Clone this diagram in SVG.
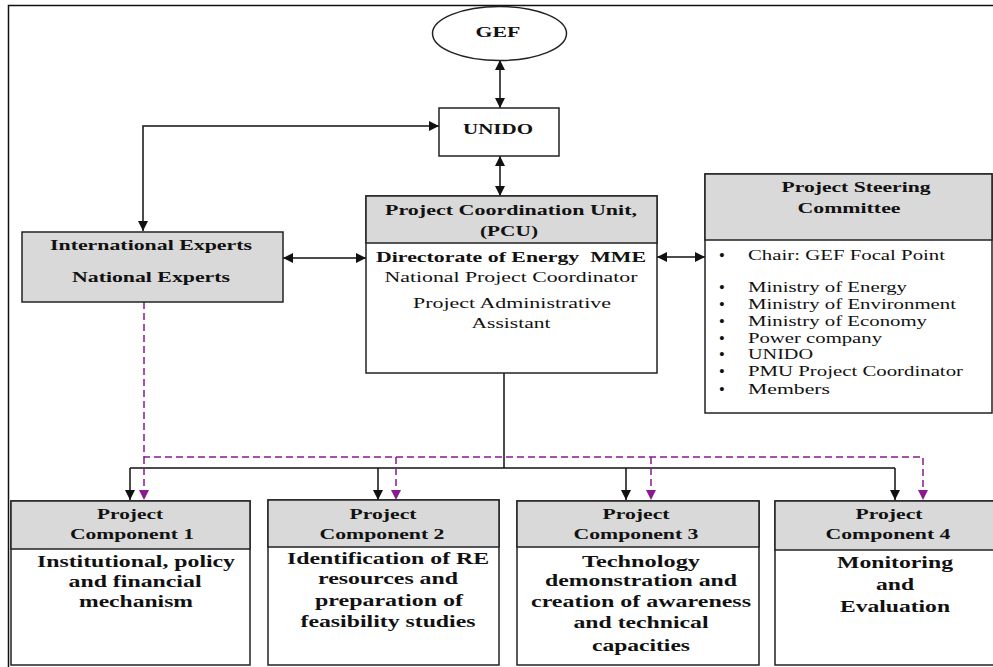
<svg xmlns="http://www.w3.org/2000/svg" width="993" height="667" viewBox="0 0 993 667">
<defs>
<style>
.box{fill:#fff;stroke:#222;stroke-width:1.5}
.hdr{fill:#d9d9d9;stroke:#222;stroke-width:1.5}
.t{font-family:"Liberation Serif","Times New Roman",serif;fill:#111;text-anchor:middle}
.b{font-weight:bold}
.l{text-anchor:start}
.bu{font-family:"Liberation Serif","Times New Roman",serif;fill:#111;font-size:15px;font-weight:bold;text-anchor:middle}
.ln{fill:none;stroke:#111;stroke-width:1.5}
.pd{fill:none;stroke:#8a1a8f;stroke-width:1.5;stroke-dasharray:7,4}
</style>
<marker id="ah" markerUnits="userSpaceOnUse" markerWidth="11" markerHeight="11" refX="10" refY="5" orient="auto-start-reverse">
<path d="M0,0 L10,5 L0,10 z" fill="#111"/>
</marker>
<marker id="ap" markerUnits="userSpaceOnUse" markerWidth="11" markerHeight="11" refX="10" refY="5" orient="auto">
<path d="M0,0 L10,5 L0,10 z" fill="#8a1a8f"/>
</marker>
</defs>
<rect width="993" height="667" fill="#fff"/>
<path d="M8.5,667 V5.5 H993" fill="none" stroke="#111" stroke-width="1.5"/>

<g id="connectors">
<path class="ln" d="M500,60 V108" marker-start="url(#ah)" marker-end="url(#ah)"/>
<path class="ln" d="M500,156 V196" marker-start="url(#ah)" marker-end="url(#ah)"/>
<path class="ln" d="M439,126 H143 V231" marker-start="url(#ah)" marker-end="url(#ah)"/>
<path class="ln" d="M283,258 H366" marker-start="url(#ah)" marker-end="url(#ah)"/>
<path class="ln" d="M657,257 H705" marker-start="url(#ah)" marker-end="url(#ah)"/>
<path class="ln" d="M504,373 V468"/>
<path class="ln" d="M130,468 H895"/>
<path class="ln" d="M130,468 V500" marker-end="url(#ah)"/>
<path class="ln" d="M378,468 V500" marker-end="url(#ah)"/>
<path class="ln" d="M626,468 V500" marker-end="url(#ah)"/>
<path class="ln" d="M895,468 V500" marker-end="url(#ah)"/>
<path class="pd" d="M144,302 V457 H923 V500" marker-end="url(#ap)"/>
<path class="pd" d="M144,457 V500" marker-end="url(#ap)"/>
<path class="pd" d="M396,457 V500" marker-end="url(#ap)"/>
<path class="pd" d="M651,457 V500" marker-end="url(#ap)"/>
</g>

<g id="gef">
<ellipse cx="499.5" cy="33.5" rx="67" ry="27" class="box"/>
<text class="t b" x="498" y="37" font-size="15" textLength="45" lengthAdjust="spacingAndGlyphs">GEF</text>
</g>

<g id="unido">
<rect x="439" y="108" width="120" height="48" class="box"/>
<text class="t b" x="498" y="134" font-size="15" textLength="70" lengthAdjust="spacingAndGlyphs">UNIDO</text>
</g>

<g id="pcu">
<rect x="366" y="196" width="291" height="177" class="box"/>
<rect x="366" y="196" width="291" height="47" class="hdr"/>
<text class="t b" x="511" y="215" font-size="15" textLength="252" lengthAdjust="spacingAndGlyphs">Project Coordination Unit,</text>
<text class="t b" x="509" y="236" font-size="15" textLength="58" lengthAdjust="spacingAndGlyphs">(PCU)</text>
<text class="t b" x="511" y="262" font-size="15" textLength="270" lengthAdjust="spacingAndGlyphs">Directorate of Energy&#160; MME</text>
<text class="t" x="511" y="282" font-size="15.5" textLength="253" lengthAdjust="spacingAndGlyphs">National Project Coordinator</text>
<text class="t" x="512" y="308" font-size="15.5" textLength="198" lengthAdjust="spacingAndGlyphs">Project Administrative</text>
<text class="t" x="511" y="328" font-size="15.5" textLength="79" lengthAdjust="spacingAndGlyphs">Assistant</text>
</g>

<g id="steering">
<rect x="705" y="174" width="287" height="239" class="box"/>
<rect x="705" y="174" width="287" height="66" class="hdr"/>
<text class="t b" x="856" y="192" font-size="15" textLength="149" lengthAdjust="spacingAndGlyphs">Project Steering</text>
<text class="t b" x="849" y="213" font-size="15" textLength="103" lengthAdjust="spacingAndGlyphs">Committee</text>
<g font-size="15">
<text class="bu" x="722" y="260">•</text><text class="t l" x="748" y="260" textLength="197" lengthAdjust="spacingAndGlyphs">Chair: GEF Focal Point</text>
<text class="bu" x="722" y="292">•</text><text class="t l" x="748" y="292" textLength="159" lengthAdjust="spacingAndGlyphs">Ministry of Energy</text>
<text class="bu" x="722" y="309">•</text><text class="t l" x="748" y="309" textLength="208" lengthAdjust="spacingAndGlyphs">Ministry of Environment</text>
<text class="bu" x="722" y="326">•</text><text class="t l" x="748" y="326" textLength="179" lengthAdjust="spacingAndGlyphs">Ministry of Economy</text>
<text class="bu" x="722" y="343">•</text><text class="t l" x="748" y="343" textLength="134" lengthAdjust="spacingAndGlyphs">Power company</text>
<text class="bu" x="722" y="359">•</text><text class="t l" x="748" y="359" textLength="65" lengthAdjust="spacingAndGlyphs">UNIDO</text>
<text class="bu" x="722" y="376">•</text><text class="t l" x="748" y="376" textLength="215" lengthAdjust="spacingAndGlyphs">PMU Project Coordinator</text>
<text class="bu" x="722" y="394">•</text><text class="t l" x="748" y="394" textLength="82" lengthAdjust="spacingAndGlyphs">Members</text>
</g>
</g>

<g id="experts">
<rect x="22" y="232" width="261" height="70" class="hdr"/>
<text class="t b" x="151" y="250" font-size="15" textLength="202" lengthAdjust="spacingAndGlyphs">International Experts</text>
<text class="t b" x="151" y="282" font-size="15" textLength="158" lengthAdjust="spacingAndGlyphs">National Experts</text>
</g>

<g id="component1">
<rect x="11" y="501" width="239" height="164" class="box"/>
<rect x="11" y="501" width="239" height="48" class="hdr"/>
<text class="t b" x="130" y="519" font-size="15" textLength="66" lengthAdjust="spacingAndGlyphs">Project</text>
<text class="t b" x="132" y="539" font-size="15" textLength="124" lengthAdjust="spacingAndGlyphs">Component 1</text>
<text class="t b" x="136" y="567" font-size="16" textLength="198" lengthAdjust="spacingAndGlyphs">Institutional, policy</text>
<text class="t b" x="135" y="587" font-size="16" textLength="133" lengthAdjust="spacingAndGlyphs">and financial</text>
<text class="t b" x="136" y="607" font-size="16" textLength="114" lengthAdjust="spacingAndGlyphs">mechanism</text>
</g>

<g id="component2">
<rect x="268" y="500" width="231" height="165" class="box"/>
<rect x="268" y="500" width="231" height="47" class="hdr"/>
<text class="t b" x="383" y="519" font-size="15" textLength="67" lengthAdjust="spacingAndGlyphs">Project</text>
<text class="t b" x="382" y="539" font-size="15" textLength="125" lengthAdjust="spacingAndGlyphs">Component 2</text>
<text class="t b" x="388" y="564" font-size="16" textLength="202" lengthAdjust="spacingAndGlyphs">Identification of RE</text>
<text class="t b" x="388" y="584" font-size="16" textLength="140" lengthAdjust="spacingAndGlyphs">resources and</text>
<text class="t b" x="389" y="606" font-size="16" textLength="148" lengthAdjust="spacingAndGlyphs">preparation of</text>
<text class="t b" x="388" y="627" font-size="16" textLength="175" lengthAdjust="spacingAndGlyphs">feasibility studies</text>
</g>

<g id="component3">
<rect x="517" y="501" width="242" height="164" class="box"/>
<rect x="517" y="501" width="242" height="46" class="hdr"/>
<text class="t b" x="636" y="519" font-size="15" textLength="67" lengthAdjust="spacingAndGlyphs">Project</text>
<text class="t b" x="636" y="539" font-size="15" textLength="125" lengthAdjust="spacingAndGlyphs">Component 3</text>
<text class="t b" x="641" y="567" font-size="16" textLength="118" lengthAdjust="spacingAndGlyphs">Technology</text>
<text class="t b" x="641" y="586" font-size="16" textLength="192" lengthAdjust="spacingAndGlyphs">demonstration and</text>
<text class="t b" x="641" y="607" font-size="16" textLength="220" lengthAdjust="spacingAndGlyphs">creation of awareness</text>
<text class="t b" x="641" y="628" font-size="16" textLength="135" lengthAdjust="spacingAndGlyphs">and technical</text>
<text class="t b" x="641" y="651" font-size="16" textLength="98" lengthAdjust="spacingAndGlyphs">capacities</text>
</g>

<g id="component4">
<rect x="775" y="501" width="226" height="164" class="box"/>
<rect x="775" y="501" width="226" height="49" class="hdr"/>
<text class="t b" x="889" y="519" font-size="15" textLength="67" lengthAdjust="spacingAndGlyphs">Project</text>
<text class="t b" x="888" y="539" font-size="15" textLength="125" lengthAdjust="spacingAndGlyphs">Component 4</text>
<text class="t b" x="895" y="568" font-size="16" textLength="116" lengthAdjust="spacingAndGlyphs">Monitoring</text>
<text class="t b" x="895" y="590" font-size="16" textLength="38" lengthAdjust="spacingAndGlyphs">and</text>
<text class="t b" x="895" y="612" font-size="16" textLength="110" lengthAdjust="spacingAndGlyphs">Evaluation</text>
</g>
</svg>
